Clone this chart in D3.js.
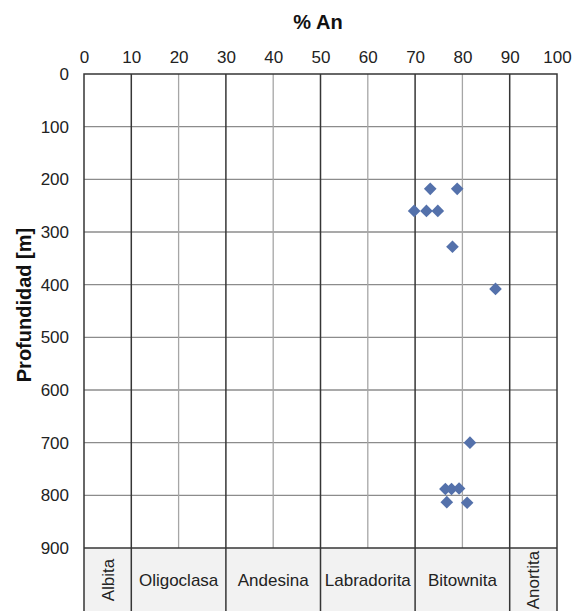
<!DOCTYPE html>
<html>
<head>
<meta charset="utf-8">
<script src="https://cdn.jsdelivr.net/npm/d3@7"></script>
<style>
  html, body { margin: 0; padding: 0; background: #fff; }
  svg { display: block; font-family: "Liberation Sans", Arial, sans-serif; }
</style>
</head>
<body>
<svg id="chart" width="573" height="611"></svg>
<script>
// Plagioclase composition (% An) against depth
const anPercent = [73.2, 78.9, 69.8, 72.4, 74.8, 77.9, 87.0, 81.6, 76.4, 77.7, 79.3, 76.7, 81.0];
const depthM    = [218, 218, 260, 260, 260, 328, 408, 700, 788, 788, 787, 813, 814];

const xTicks = [0, 10, 20, 30, 40, 50, 60, 70, 80, 90, 100];
const yTicks = [0, 100, 200, 300, 400, 500, 600, 700, 800, 900];

// Plagioclase series names and their % An limits
const mineralNames  = ["Albita", "Oligoclasa", "Andesina", "Labradorita", "Bitownita", "Anortita"];
const mineralLimits = [0, 10, 30, 50, 70, 90, 100];

const svg = d3.select("#chart");
const margin = { left: 84, right: 16, top: 74, bottom: 63 };
const W = 573, H = 611;
const x = d3.scaleLinear().domain([0, 100]).range([margin.left, W - margin.right]);
const y = d3.scaleLinear().domain([0, 900]).range([margin.top, H - margin.bottom]);

const bandTop = y(900), bandBottom = H + 15;

// name band under the plot
svg.append("rect")
  .attr("x", x(0)).attr("y", bandTop)
  .attr("width", x(100) - x(0)).attr("height", bandBottom - bandTop)
  .attr("fill", "#f2f2f2");

// horizontal grid lines
svg.append("g").selectAll("line").data(yTicks.filter(d => d > 0 && d < 900)).join("line")
  .attr("x1", x(0)).attr("x2", x(100))
  .attr("y1", d => y(d)).attr("y2", d => y(d))
  .attr("stroke", "#8c8c8c").attr("stroke-width", 1.3);

// minor vertical grid lines (inside series)
const inner = xTicks.filter(d => !mineralLimits.includes(d));
svg.append("g").selectAll("line").data(inner).join("line")
  .attr("x1", d => x(d)).attr("x2", d => x(d))
  .attr("y1", y(0)).attr("y2", y(900))
  .attr("stroke", "#a6a6a6").attr("stroke-width", 1.3);

// series limits, running through the name band
svg.append("g").selectAll("line").data(mineralLimits.slice(1, -1)).join("line")
  .attr("x1", d => x(d)).attr("x2", d => x(d))
  .attr("y1", y(0)).attr("y2", bandBottom)
  .attr("stroke", "#363636").attr("stroke-width", 1.5);

// outer frame and band divider
svg.append("rect")
  .attr("x", x(0)).attr("y", y(0))
  .attr("width", x(100) - x(0)).attr("height", bandBottom - y(0))
  .attr("fill", "none").attr("stroke", "#363636").attr("stroke-width", 1.5);
svg.append("line")
  .attr("x1", x(0)).attr("x2", x(100)).attr("y1", bandTop).attr("y2", bandTop)
  .attr("stroke", "#363636").attr("stroke-width", 1.5);

// mineral names
const bandMid = 580;
mineralNames.forEach((name, i) => {
  const a = mineralLimits[i], b = mineralLimits[i + 1];
  const cx = x((a + b) / 2);
  const vertical = (b - a) < 15;
  svg.append("text")
    .attr("transform", vertical ? `translate(${cx},${bandMid}) rotate(-90)` : `translate(${cx},${bandMid})`)
    .attr("text-anchor", "middle")
    .attr("dy", "0.35em")
    .attr("font-size", 17)
    .attr("fill", "#222")
    .text(name);
});

// axes
const topAxis = d3.axisTop(x).tickValues(xTicks).tickSize(0).tickPadding(11).tickFormat(d3.format("d"));
const gx = svg.append("g").attr("transform", `translate(0,${y(0)})`).call(topAxis);
gx.select(".domain").remove();
gx.selectAll("text").attr("font-size", 17).attr("fill", "#222").attr("font-family", "Liberation Sans, Arial, sans-serif");

const leftAxis = d3.axisLeft(y).tickValues(yTicks).tickSize(0).tickPadding(15).tickFormat(d3.format("d"));
const gy = svg.append("g").attr("transform", `translate(${x(0)},0)`).call(leftAxis);
gy.select(".domain").remove();
gy.selectAll("text").attr("font-size", 17).attr("fill", "#222").attr("font-family", "Liberation Sans, Arial, sans-serif");

// axis titles
svg.append("text")
  .attr("x", 318).attr("y", 29)
  .attr("text-anchor", "middle")
  .attr("font-size", 20).attr("font-weight", "bold").attr("fill", "#111")
  .text("% An");
svg.append("text")
  .attr("transform", `translate(31,305) rotate(-90)`)
  .attr("text-anchor", "middle")
  .attr("font-size", 20).attr("font-weight", "bold").attr("fill", "#111")
  .text("Profundidad [m]");

// samples
const diamond = d3.symbol().type(d3.symbolSquare).size(80);
svg.append("g").selectAll("path").data(anPercent.map((v, i) => [v, depthM[i]])).join("path")
  .attr("d", diamond)
  .attr("transform", d => `translate(${x(d[0])},${y(d[1])}) rotate(45)`)
  .attr("fill", "#5471ab");
</script>
</body>
</html>
